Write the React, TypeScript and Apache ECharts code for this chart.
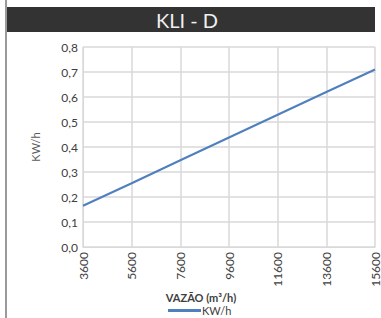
import React, { useEffect, useRef } from "react";
import * as echarts from "echarts";

const categories = ["3600", "5600", "7600", "9600", "11600", "13600", "15600"];
const kwhValues = [0.165, 0.255, 0.347, 0.438, 0.529, 0.62, 0.71];
const yTicks = { min: 0, max: 0.8, interval: 0.1 };
const titleText = "KLI - D";
const xAxisName = "VAZÃO (m³/h)";
const yAxisName = "KW/h";
const seriesName = "KW/h";

export default function App() {
  const ref = useRef<HTMLDivElement>(null);
  useEffect(() => {
    const chart = echarts.init(ref.current!, null, { renderer: "svg" });
    const font = "Lato, 'Open Sans', sans-serif";
    chart.setOption({
      animation: false,
      backgroundColor: "#ffffff",
      grid: { left: 83, right: 5, top: 47, bottom: 71, containLabel: false },
      legend: {
        show: true,
        left: 168,
        top: 305,
        itemWidth: 33,
        itemHeight: 3,
        itemGap: 0,
        icon: "rect",
        textStyle: { fontFamily: font, fontSize: 11, color: "#404040", padding: [0, 0, 0, -4] },
        data: [{ name: seriesName, icon: "rect" }],
        padding: 0,
      },
      xAxis: {
        type: "category",
        data: categories,
        boundaryGap: false,
        axisLine: { show: true, lineStyle: { color: "#d9d9d9", width: 1 } },
        axisTick: { show: false },
        splitLine: { show: true, lineStyle: { color: "#d9d9d9", width: 1.5 } },
        axisLabel: {
          rotate: 90,
          margin: 5,
          fontFamily: font,
          fontSize: 12,
          color: "#404040",
          interval: 0,
        },
      },
      yAxis: {
        type: "value",
        min: yTicks.min,
        max: yTicks.max,
        interval: yTicks.interval,
        name: yAxisName,
        nameLocation: "middle",
        nameGap: 42,
        nameRotate: 90,
        nameTextStyle: { fontFamily: font, fontSize: 11, color: "#595959" },
        axisLine: { show: true, lineStyle: { color: "#d9d9d9", width: 1 } },
        axisTick: { show: false },
        splitLine: { show: true, lineStyle: { color: "#d9d9d9", width: 1.5 } },
        axisLabel: {
          margin: 5,
          fontFamily: font,
          fontSize: 12,
          color: "#404040",
          formatter: (v: number) => v.toFixed(1).replace(".", ","),
        },
      },
      series: [
        {
          name: seriesName,
          type: "line",
          data: kwhValues,
          symbol: "none",
          lineStyle: { color: "#4f7fbe", width: 2 },
          itemStyle: { color: "#4f7fbe" },
        },
      ],
      graphic: [
        { type: "line", shape: { x1: 6, y1: 0, x2: 6, y2: 318 }, style: { stroke: "#9a9a9a", lineWidth: 2 } },
        { type: "rect", shape: { x: 7, y: 7, width: 368, height: 25 }, style: { fill: "#333333" } },
        {
          type: "text",
          x: 187,
          y: 20,
          style: {
            text: titleText,
            fill: "#efefef",
            fontFamily: font,
            fontSize: 20,
            align: "center",
            verticalAlign: "middle",
          },
        },
        {
          type: "text",
          x: 201,
          y: 297,
          style: {
            text: xAxisName,
            fill: "#404040",
            fontFamily: font,
            fontSize: 11,
            fontWeight: "bold",
            align: "center",
            verticalAlign: "middle",
          },
        },
      ],
    });
    return () => chart.dispose();
  }, []);
  return <div ref={ref} style={{ width: 381, height: 318, position: "absolute", left: 0, top: 0 }} />;
}
